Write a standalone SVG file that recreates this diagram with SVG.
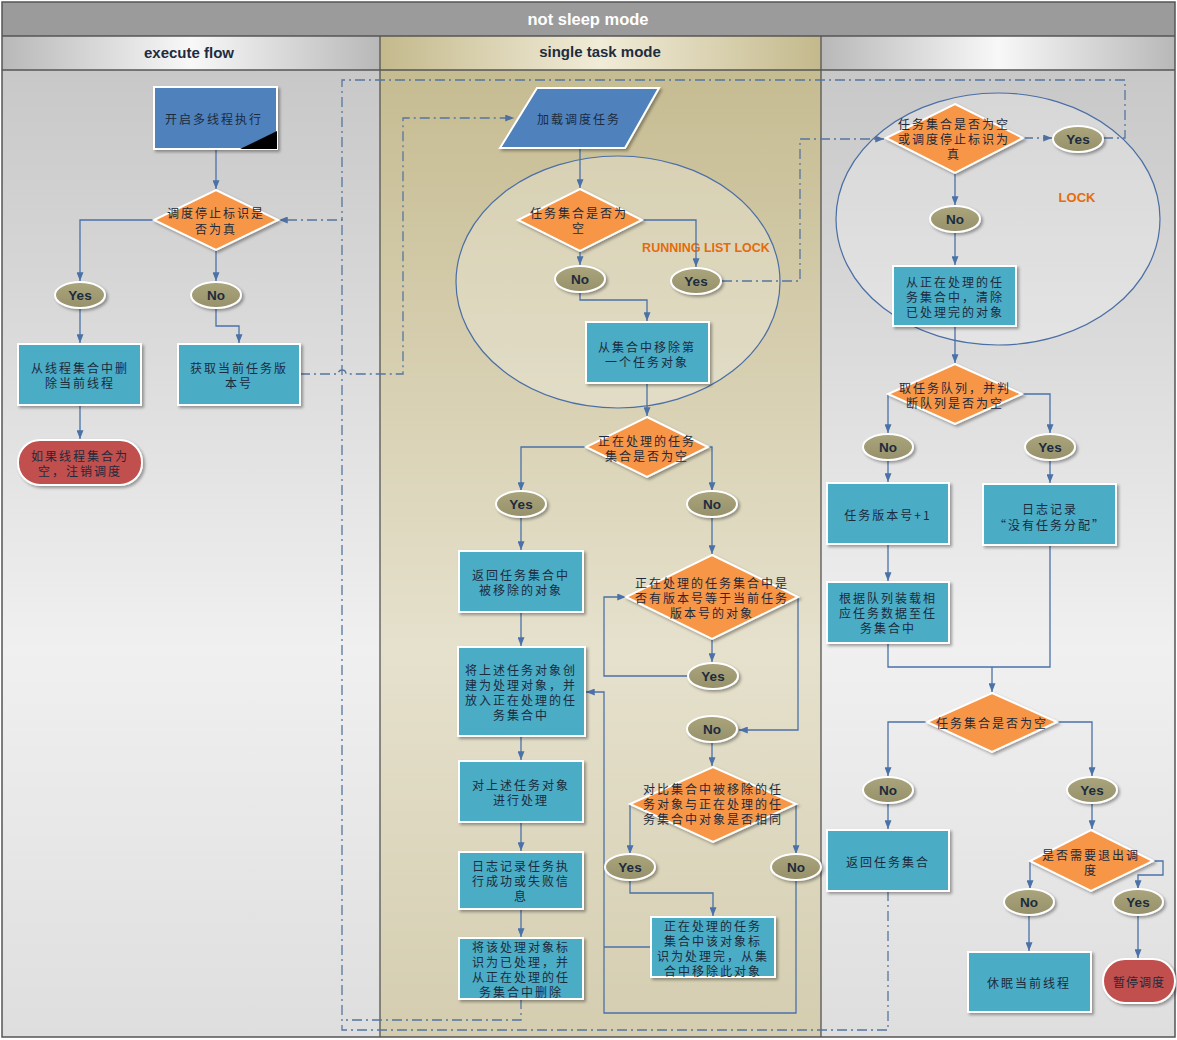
<svg xmlns="http://www.w3.org/2000/svg" width="1177" height="1040" viewBox="0 0 1177 1040">
<defs>
<linearGradient id="gLane" x1="0" y1="0" x2="0" y2="1">
<stop offset="0" stop-color="#c8c8c8"/><stop offset="0.6" stop-color="#f0f0f0"/><stop offset="1" stop-color="#dedede"/>
</linearGradient>
<linearGradient id="gMid" x1="0" y1="0" x2="0" y2="1">
<stop offset="0" stop-color="#c6bc92"/><stop offset="0.6" stop-color="#e6e1cd"/><stop offset="1" stop-color="#d4cdb0"/>
</linearGradient>
<linearGradient id="gHead" x1="0" y1="0" x2="1" y2="0">
<stop offset="0" stop-color="#b8b8b8"/><stop offset="0.5" stop-color="#f8f8f8"/><stop offset="1" stop-color="#b8b8b8"/>
</linearGradient>
<linearGradient id="gHeadMid" x1="0" y1="0" x2="1" y2="0">
<stop offset="0" stop-color="#c4b98c"/><stop offset="0.5" stop-color="#f1ecd8"/><stop offset="1" stop-color="#c4b98c"/>
</linearGradient>
<linearGradient id="gOval" x1="0" y1="0" x2="0" y2="1">
<stop offset="0" stop-color="#aaa57c"/><stop offset="1" stop-color="#96916a"/>
</linearGradient>
<filter id="sh" x="-20%" y="-20%" width="140%" height="140%">
<feDropShadow dx="2" dy="2" stdDeviation="1.5" flood-color="#000" flood-opacity="0.35"/>
</filter>
<marker id="ah" viewBox="0 0 10 8" refX="10" refY="4" markerWidth="9" markerHeight="7" markerUnits="userSpaceOnUse" orient="auto">
<path d="M0,0 L10,4 L0,8 z" fill="#4a72a8"/>
</marker>
<marker id="ahd" viewBox="0 0 10 8" refX="10" refY="4" markerWidth="9" markerHeight="7" markerUnits="userSpaceOnUse" orient="auto">
<path d="M0,0 L10,4 L0,8 z" fill="#4f6f9f"/>
</marker>
</defs>
<style>
.box{fill:#4bacc6;stroke:#fff;stroke-width:2;filter:url(#sh)}
.dia{fill:#f79646;stroke:#fff;stroke-width:2;filter:url(#sh)}
.oval{fill:url(#gOval);stroke:#fff;stroke-width:2;filter:url(#sh)}
.term{fill:#c0504d;stroke:#fff;stroke-width:2;filter:url(#sh)}
.t{font-family:"Noto Sans CJK SC","Noto Sans CJK TC",sans-serif;font-size:12px;fill:#1c2b3d;text-anchor:middle;dominant-baseline:central;letter-spacing:2px}
.lbl{font-family:"Liberation Sans",Arial,sans-serif;font-weight:bold;font-size:13.5px;fill:#1c2b3d;text-anchor:middle;dominant-baseline:central}
.hd{font-family:"Liberation Sans",Arial,sans-serif;font-weight:bold;font-size:15px;fill:#1e2c40;text-anchor:middle;dominant-baseline:central}
.lk{font-family:"Liberation Sans",Arial,sans-serif;font-weight:bold;font-size:12.5px;fill:#e46c0a;text-anchor:middle;dominant-baseline:central}
.c{fill:none;stroke:#4a72a8;stroke-width:1.3}
.ca{fill:none;stroke:#4a72a8;stroke-width:1.3;marker-end:url(#ah)}
.d{fill:none;stroke:#56769f;stroke-width:1.3;stroke-dasharray:10 4 2 4}
.da{fill:none;stroke:#56769f;stroke-width:1.3;stroke-dasharray:10 4 2 4;marker-end:url(#ahd)}
.lock{fill:#ffffff;fill-opacity:0.25;stroke:#4a6fa5;stroke-width:1.2}
</style>

<!-- background and lanes -->
<g id="pool">
<rect x="2" y="2" width="1173" height="1035" fill="#ddd"/>
<rect x="2" y="70" width="378" height="967" fill="url(#gLane)"/>
<rect x="380" y="70" width="441" height="967" fill="url(#gMid)"/>
<rect x="821" y="70" width="354" height="967" fill="url(#gLane)"/>
<rect x="2" y="2" width="1173" height="34" fill="#9b9b9b"/>
<rect x="2" y="36" width="378" height="34" fill="url(#gHead)"/>
<rect x="380" y="36" width="441" height="34" fill="url(#gHeadMid)"/>
<rect x="821" y="36" width="354" height="34" fill="url(#gHead)"/>
<path d="M2,36 H1175 M2,70 H1175 M380,36 V1037 M821,36 V1037" stroke="#555" stroke-width="1.3" fill="none"/>
<rect x="2" y="2" width="1173" height="1035" fill="none" stroke="#555" stroke-width="1.5"/>
<text x="588" y="19" class="hd" style="fill:#fff;font-size:16.5px">not sleep mode</text>
<text x="189" y="52" class="hd">execute flow</text>
<text x="600" y="51" class="hd">single task mode</text>
</g>

<!-- lock regions -->
<g id="lock-running">
<ellipse cx="618" cy="282" rx="162" ry="126" class="lock"/>
<text x="706" y="248" class="lk">RUNNING LIST LOCK</text>
</g>
<g id="lock-right">
<ellipse cx="998" cy="219" rx="162" ry="126" class="lock"/>
<text x="1077" y="197" class="lk" style="font-size:13px">LOCK</text>
</g>

<!-- connectors -->
<g id="connectors">
<path class="ca" d="M216,149 V189"/>
<path class="ca" d="M154,220 H80 V281"/>
<path class="ca" d="M216,250 V281"/>
<path class="ca" d="M80,308 V343"/>
<path class="ca" d="M216,308 V326 H239 V343"/>
<path class="ca" d="M80,405 V439"/>

<path class="ca" d="M580,148 V188"/>
<path class="ca" d="M642,220 H696 V267"/>
<path class="ca" d="M580,251 V265"/>
<path class="ca" d="M580,292 V300 H647 V321"/>
<path class="ca" d="M647,383 V416"/>
<path class="ca" d="M586,447 H521 V491"/>
<path class="ca" d="M708,447 H712 V491"/>
<path class="ca" d="M521,517 V550"/>
<path class="ca" d="M521,612 V646"/>
<path class="ca" d="M712,517 V554"/>
<path class="ca" d="M712,639 V662"/>
<path class="ca" d="M688,676 H604 V597 H626"/>
<path class="ca" d="M798,597 V730 H739"/>
<path class="ca" d="M712,742 V766"/>
<path class="ca" d="M630,804 V854"/>
<path class="ca" d="M796,804 V854"/>
<path class="ca" d="M630,880 V893 H713 V916"/>
<path class="c" d="M651,947 H604"/>
<path class="ca" d="M796,880 V1013 H604 V692 H586"/>
<path class="ca" d="M521,736 V760"/>
<path class="ca" d="M521,822 V851"/>
<path class="ca" d="M521,909 V937"/>

<path class="ca" d="M955,173 V205"/>
<path class="ca" d="M955,232 V265"/>
<path class="ca" d="M955,326 V363"/>
<path class="ca" d="M888,394 V433"/>
<path class="ca" d="M1022,394 H1050 V433"/>
<path class="ca" d="M888,460 V482"/>
<path class="ca" d="M1050,460 V483"/>
<path class="ca" d="M888,544 V581"/>
<path class="c" d="M888,643 V667 H1050 V545"/>
<path class="ca" d="M992,667 V692"/>
<path class="ca" d="M927,722 H888 V776"/>
<path class="ca" d="M1057,722 H1092 V776"/>
<path class="ca" d="M888,803 V829"/>
<path class="ca" d="M1092,803 V829"/>
<path class="ca" d="M1030,861 V889"/>
<path class="ca" d="M1153,861 H1163 V875 H1138 V889"/>
<path class="ca" d="M1029,915 V951"/>
<path class="ca" d="M1138,915 V958"/>

<path class="da" d="M1023,138 H1052"/>
<path class="d" d="M1103,138 H1125 V80 H342 V220"/>
<path class="da" d="M888,891 V1030 H342 V220 H279"/>
<path class="d" d="M521,999 V1020 H342"/>
<path class="da" d="M300,374 H338 A4,4 0 0 1 346,374 H403 V118 H514"/>
<path class="da" d="M722,281 H800 V139 H884"/>
</g>

<!-- left lane nodes -->
<g id="n-start">
<rect x="154" y="87" width="123" height="62" class="box" style="fill:#4f81bd"/>
<polygon points="277,131 277,149 240,149" fill="#000"/>
<text x="214" y="118" class="t">开启多线程执行</text>
</g>
<g id="n-stopflag">
<polygon points="216,190 278,220 216,250 154,220" class="dia"/>
<text x="216" y="212" class="t">调度停止标识是</text>
<text x="216" y="228" class="t">否为真</text>
</g>
<g id="n-l-yes"><ellipse cx="80" cy="295" rx="25" ry="13" class="oval"/><text x="80" y="295" class="lbl">Yes</text></g>
<g id="n-l-no"><ellipse cx="216" cy="295" rx="25" ry="13" class="oval"/><text x="216" y="295" class="lbl">No</text></g>
<g id="n-delthread">
<rect x="18" y="344" width="123" height="61" class="box"/>
<text x="80" y="367" class="t">从线程集合中删</text>
<text x="80" y="382" class="t">除当前线程</text>
</g>
<g id="n-getver">
<rect x="178" y="344" width="122" height="61" class="box"/>
<text x="239" y="367" class="t">获取当前任务版</text>
<text x="239" y="382" class="t">本号</text>
</g>
<g id="n-unreg">
<rect x="18" y="440" width="124" height="45" rx="22" class="term"/>
<text x="80" y="455" class="t">如果线程集合为</text>
<text x="80" y="470" class="t">空，注销调度</text>
</g>

<!-- middle lane nodes -->
<g id="n-load">
<polygon points="537,88 659,88 625,148 500,148" class="box" style="fill:#4f81bd"/>
<text x="579" y="118" class="t">加载调度任务</text>
</g>
<g id="n-m-empty">
<polygon points="580,189 642,220 580,251 518,220" class="dia"/>
<text x="579" y="212" class="t">任务集合是否为</text>
<text x="579" y="227" class="t">空</text>
</g>
<g id="n-m-no1"><ellipse cx="580" cy="279" rx="25" ry="13" class="oval"/><text x="580" y="279" class="lbl">No</text></g>
<g id="n-m-yes1"><ellipse cx="696" cy="281" rx="25" ry="13" class="oval"/><text x="696" y="281" class="lbl">Yes</text></g>
<g id="n-removefirst">
<rect x="586" y="322" width="123" height="61" class="box"/>
<text x="647" y="346" class="t">从集合中移除第</text>
<text x="647" y="361" class="t">一个任务对象</text>
</g>
<g id="n-procempty">
<polygon points="647,417 708,447 647,477 586,447" class="dia"/>
<text x="647" y="440" class="t">正在处理的任务</text>
<text x="647" y="455" class="t">集合是否为空</text>
</g>
<g id="n-m-yes2"><ellipse cx="521" cy="504" rx="25" ry="13" class="oval"/><text x="521" y="504" class="lbl">Yes</text></g>
<g id="n-m-no2"><ellipse cx="712" cy="504" rx="25" ry="13" class="oval"/><text x="712" y="504" class="lbl">No</text></g>
<g id="n-returnremoved">
<rect x="459" y="551" width="124" height="61" class="box"/>
<text x="521" y="574" class="t">返回任务集合中</text>
<text x="521" y="589" class="t">被移除的对象</text>
</g>
<g id="n-createproc">
<rect x="458" y="647" width="127" height="89" class="box"/>
<text x="521" y="669" class="t">将上述任务对象创</text>
<text x="521" y="684" class="t">建为处理对象，并</text>
<text x="521" y="699" class="t">放入正在处理的任</text>
<text x="521" y="714" class="t">务集合中</text>
</g>
<g id="n-samever">
<polygon points="712,555 798,597 712,639 626,597" class="dia"/>
<text x="712" y="582" class="t">正在处理的任务集合中是</text>
<text x="712" y="597" class="t">否有版本号等于当前任务</text>
<text x="712" y="612" class="t">版本号的对象</text>
</g>
<g id="n-m-yes3"><ellipse cx="713" cy="676" rx="25" ry="13" class="oval"/><text x="713" y="676" class="lbl">Yes</text></g>
<g id="n-m-no3"><ellipse cx="712" cy="729" rx="25" ry="13" class="oval"/><text x="712" y="729" class="lbl">No</text></g>
<g id="n-process">
<rect x="459" y="761" width="124" height="61" class="box"/>
<text x="521" y="784" class="t">对上述任务对象</text>
<text x="521" y="799" class="t">进行处理</text>
</g>
<g id="n-logresult">
<rect x="459" y="852" width="124" height="57" class="box"/>
<text x="521" y="865" class="t">日志记录任务执</text>
<text x="521" y="880" class="t">行成功或失败信</text>
<text x="521" y="895" class="t">息</text>
</g>
<g id="n-markdone">
<rect x="459" y="938" width="124" height="61" class="box"/>
<text x="521" y="946" class="t">将该处理对象标</text>
<text x="521" y="961" class="t">识为已处理，并</text>
<text x="521" y="976" class="t">从正在处理的任</text>
<text x="521" y="991" class="t">务集合中删除</text>
</g>
<g id="n-compare">
<polygon points="713,767 796,804 713,842 630,804" class="dia"/>
<text x="713" y="788" class="t">对比集合中被移除的任</text>
<text x="713" y="803" class="t">务对象与正在处理的任</text>
<text x="713" y="818" class="t">务集合中对象是否相同</text>
</g>
<g id="n-m-yes4"><ellipse cx="630" cy="867" rx="25" ry="13" class="oval"/><text x="630" y="867" class="lbl">Yes</text></g>
<g id="n-m-no4"><ellipse cx="796" cy="867" rx="25" ry="13" class="oval"/><text x="796" y="867" class="lbl">No</text></g>
<g id="n-removeobj">
<rect x="651" y="917" width="124" height="60" class="box"/>
<text x="713" y="925" class="t">正在处理的任务</text>
<text x="713" y="940" class="t">集合中该对象标</text>
<text x="713" y="955" class="t">识为处理完，从集</text>
<text x="713" y="970" class="t">合中移除此对象</text>
</g>

<!-- right lane nodes -->
<g id="n-r-check">
<polygon points="955,104 1023,138 955,173 886,138" class="dia"/>
<text x="954" y="123" class="t">任务集合是否为空</text>
<text x="954" y="138" class="t">或调度停止标识为</text>
<text x="954" y="153" class="t">真</text>
</g>
<g id="n-r-yes1"><ellipse cx="1078" cy="139" rx="25" ry="13" class="oval"/><text x="1078" y="139" class="lbl">Yes</text></g>
<g id="n-r-no1"><ellipse cx="955" cy="219" rx="25" ry="13" class="oval"/><text x="955" y="219" class="lbl">No</text></g>
<g id="n-clear">
<rect x="893" y="266" width="123" height="60" class="box"/>
<text x="955" y="281" class="t">从正在处理的任</text>
<text x="955" y="296" class="t">务集合中，清除</text>
<text x="955" y="311" class="t">已处理完的对象</text>
</g>
<g id="n-queue">
<polygon points="955,364 1022,394 955,424 888,394" class="dia"/>
<text x="955" y="387" class="t">取任务队列，并判</text>
<text x="955" y="402" class="t">断队列是否为空</text>
</g>
<g id="n-r-no2"><ellipse cx="888" cy="447" rx="25" ry="13" class="oval"/><text x="888" y="447" class="lbl">No</text></g>
<g id="n-r-yes2"><ellipse cx="1050" cy="447" rx="25" ry="13" class="oval"/><text x="1050" y="447" class="lbl">Yes</text></g>
<g id="n-verinc">
<rect x="827" y="483" width="122" height="61" class="box"/>
<text x="888" y="514" class="t">任务版本号+1</text>
</g>
<g id="n-lognone">
<rect x="983" y="484" width="133" height="61" class="box"/>
<text x="1050" y="508" class="t">日志记录</text>
<text x="1050" y="524" class="t">“没有任务分配”</text>
</g>
<g id="n-loadqueue">
<rect x="827" y="582" width="122" height="61" class="box"/>
<text x="888" y="597" class="t">根据队列装载相</text>
<text x="888" y="612" class="t">应任务数据至任</text>
<text x="888" y="627" class="t">务集合中</text>
</g>
<g id="n-r-empty">
<polygon points="992,693 1057,722 992,752 927,722" class="dia"/>
<text x="992" y="722" class="t">任务集合是否为空</text>
</g>
<g id="n-r-no3"><ellipse cx="888" cy="790" rx="25" ry="13" class="oval"/><text x="888" y="790" class="lbl">No</text></g>
<g id="n-r-yes3"><ellipse cx="1092" cy="790" rx="25" ry="13" class="oval"/><text x="1092" y="790" class="lbl">Yes</text></g>
<g id="n-returnset">
<rect x="827" y="830" width="122" height="61" class="box"/>
<text x="888" y="861" class="t">返回任务集合</text>
</g>
<g id="n-exit">
<polygon points="1091,830 1153,861 1091,891 1030,861" class="dia"/>
<text x="1091" y="854" class="t">是否需要退出调</text>
<text x="1091" y="869" class="t">度</text>
</g>
<g id="n-r-no4"><ellipse cx="1029" cy="902" rx="25" ry="13" class="oval"/><text x="1029" y="902" class="lbl">No</text></g>
<g id="n-r-yes4"><ellipse cx="1138" cy="902" rx="25" ry="13" class="oval"/><text x="1138" y="902" class="lbl">Yes</text></g>
<g id="n-sleep">
<rect x="968" y="952" width="123" height="60" class="box"/>
<text x="1029" y="982" class="t">休眠当前线程</text>
</g>
<g id="n-pause">
<rect x="1103" y="959" width="72" height="44" rx="22" class="term"/>
<text x="1139" y="981" class="t" style="letter-spacing:1px">暂停调度</text>
</g>
</svg>
